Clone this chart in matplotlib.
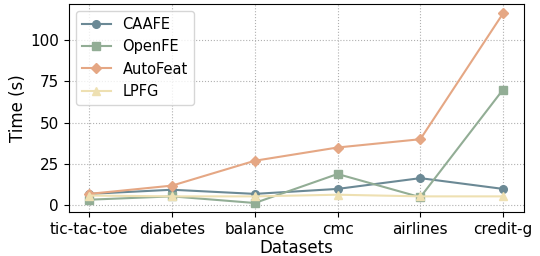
import matplotlib
matplotlib.use("Agg")
import matplotlib.pyplot as plt

datasets = ["tic-tac-toe", "diabetes", "balance", "cmc", "airlines", "credit-g"]
caafe = [7, 9.5, 7, 10, 16.5, 10]
openfe = [3.5, 5.5, 1.5, 19, 5, 70]
autofeat = [7, 12, 27, 35, 40, 116]
lpfg = [6, 5.5, 5.5, 6.5, 5.5, 5.5]

fig, ax = plt.subplots(figsize=(5.4, 2.56), dpi=100)
x = range(len(datasets))
ax.plot(x, caafe, marker='o', color='#6b8995', label='CAAFE', lw=1.5, ms=5.5)
ax.plot(x, openfe, marker='s', color='#92ad95', label='OpenFE', lw=1.5, ms=5.5)
ax.plot(x, autofeat, marker='D', color='#e5a784', label='AutoFeat', lw=1.5, ms=5.5)
ax.plot(x, lpfg, marker='^', color='#eee0b2', label='LPFG', lw=1.5, ms=5.5)

ax.set_xticks(list(x))
ax.set_xticklabels(datasets, fontsize=11)
ax.tick_params(axis='y', labelsize=11)
ax.set_xlabel('Datasets', fontsize=12, labelpad=1)
ax.set_ylabel('Time (s)', fontsize=12, labelpad=2)
ax.grid(True, linestyle=':', color='#b0b0b0')
ax.legend(loc='upper left', fontsize=10.5)

fig.subplots_adjust(left=0.127, right=0.97, top=0.985, bottom=0.17)
fig.savefig('out.png')
